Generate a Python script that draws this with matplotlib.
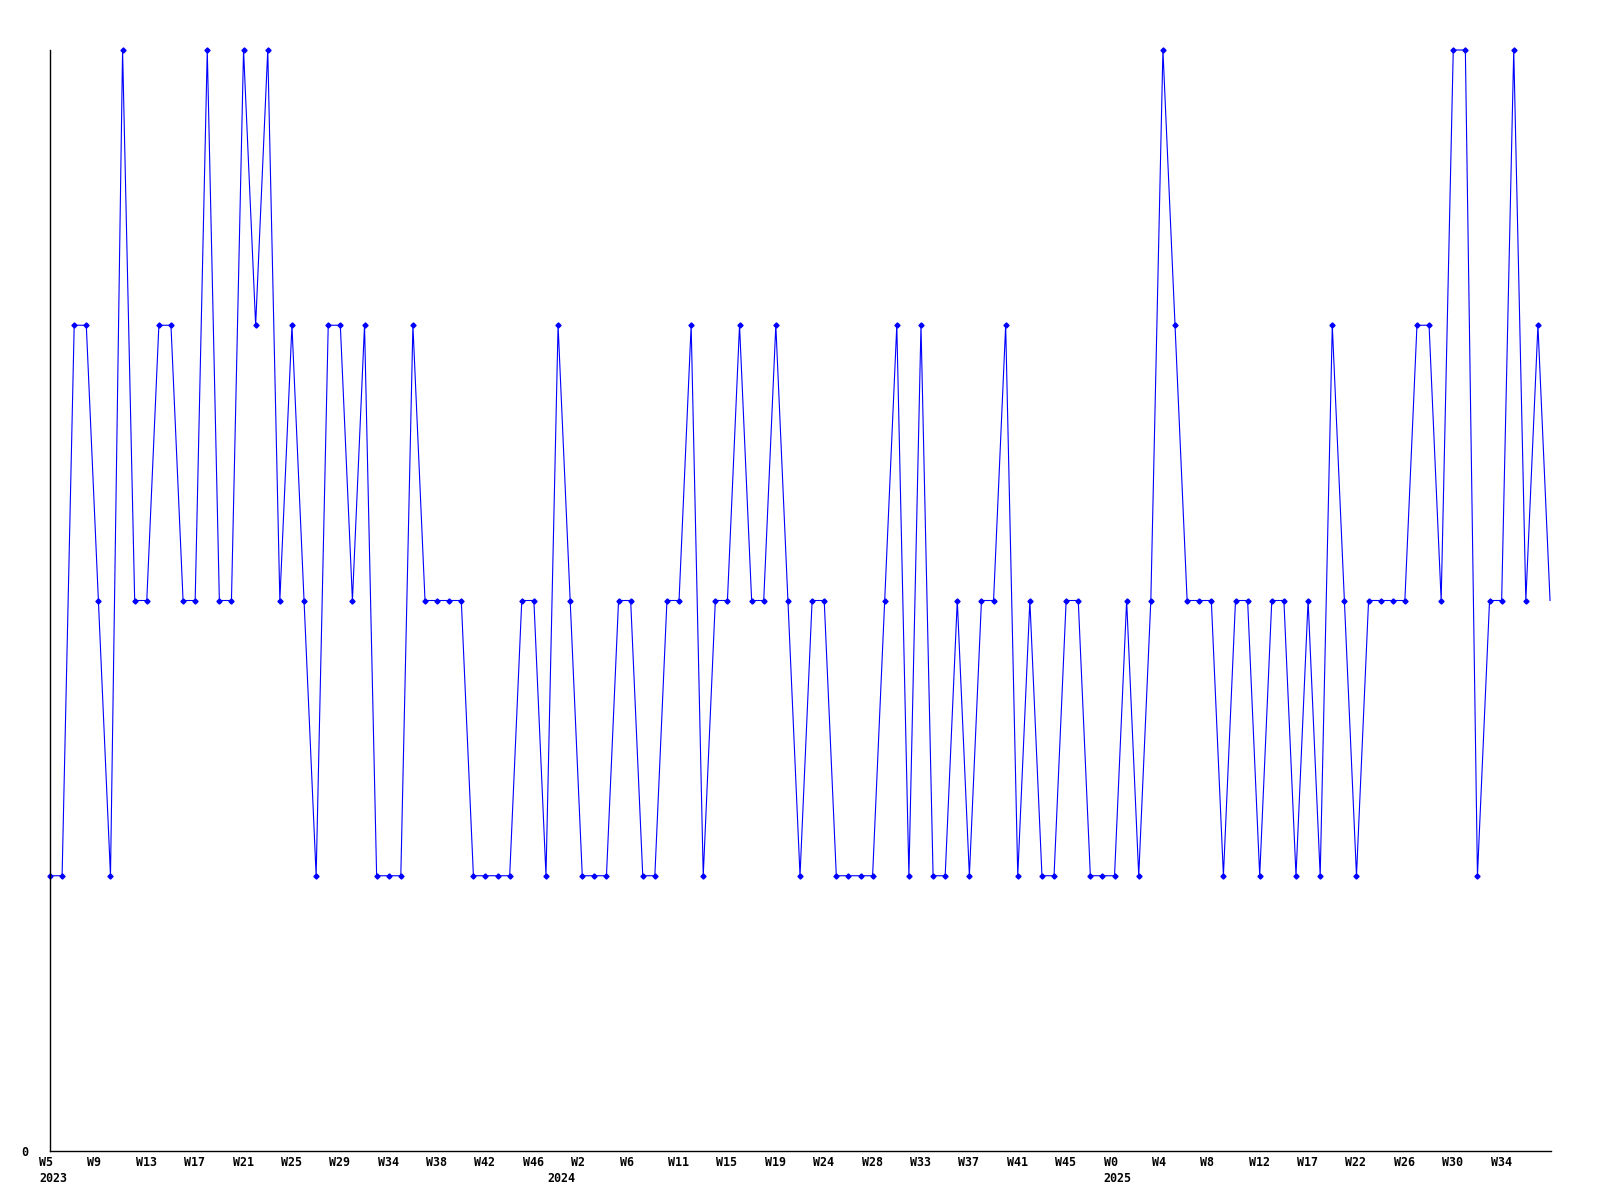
import matplotlib
matplotlib.use("Agg")
import matplotlib.pyplot as plt
import matplotlib.transforms as mtransforms

# weekly counts, one point per sample
values = [1, 1, 3, 3, 2, 1, 4, 2, 2, 3,
          3, 2, 2, 4, 2, 2, 4, 3, 4, 2,
          3, 2, 1, 3, 3, 2, 3, 1, 1, 1,
          3, 2, 2, 2, 2, 1, 1, 1, 1, 2,
          2, 1, 3, 2, 1, 1, 1, 2, 2, 1,
          1, 2, 2, 3, 1, 2, 2, 3, 2, 2,
          3, 2, 1, 2, 2, 1, 1, 1, 1, 2,
          3, 1, 3, 1, 1, 2, 1, 2, 2, 3,
          1, 2, 1, 1, 2, 2, 1, 1, 1, 2,
          1, 2, 4, 3, 2, 2, 2, 1, 2, 2,
          1, 2, 2, 1, 2, 1, 3, 2, 1, 2,
          2, 2, 2, 3, 3, 2, 4, 4, 1, 2,
          2, 4, 2, 3, 2]

week_labels = ['W5', 'W9', 'W13', 'W17', 'W21', 'W25', 'W29', 'W34', 'W38', 'W42', 'W46',
               'W2', 'W6', 'W11', 'W15', 'W19', 'W24', 'W28', 'W33', 'W37', 'W41', 'W45',
               'W0', 'W4', 'W8', 'W12', 'W17', 'W22', 'W26', 'W30', 'W34']
week_points = list(range(0, 4 * len(week_labels), 4))

year_labels = ['2023', '2024', '2025']
year_points = [0, 42, 88]

plt.rcParams['font.family'] = ['DejaVu Sans Mono']
plt.rcParams['font.weight'] = 'bold'
plt.rcParams['font.size'] = 8.4

fig = plt.figure(figsize=(16, 12), dpi=100)
ax = fig.add_axes([50 / 1600, 1 - 1151 / 1200, 1501 / 1600, 1101 / 1200])

x = list(range(len(values)))
ax.plot(x, values, color='#0000ff', linewidth=0.8, marker='D', markersize=2.6,
        markevery=slice(0, len(values) - 1), clip_on=False)

ax.set_xlim(0, len(values) - 1 + 0.08)
ax.set_ylim(0, max(values))

for s in ['top', 'right']:
    ax.spines[s].set_visible(False)
for s in ['left', 'bottom']:
    ax.spines[s].set_linewidth(1.0)
    ax.spines[s].set_color('black')

ax.set_yticks([0])
ax.set_yticklabels(['0'])
ax.tick_params(axis='y', length=0, pad=16)
ax.set_xticks([])

# labels sit left-aligned, a bit left of their point
trans = mtransforms.blended_transform_factory(ax.transData, ax.transAxes)
shift = mtransforms.ScaledTranslation(-11 / 100, -5.5 / 100, fig.dpi_scale_trans)
for p, lab in zip(week_points, week_labels):
    ax.text(p, 0, lab, transform=trans + shift, ha='left', va='top')
shift2 = mtransforms.ScaledTranslation(-11 / 100, -21 / 100, fig.dpi_scale_trans)
for p, lab in zip(year_points, year_labels):
    ax.text(p, 0, lab, transform=trans + shift2, ha='left', va='top')

plt.savefig('out.png', dpi=100)
